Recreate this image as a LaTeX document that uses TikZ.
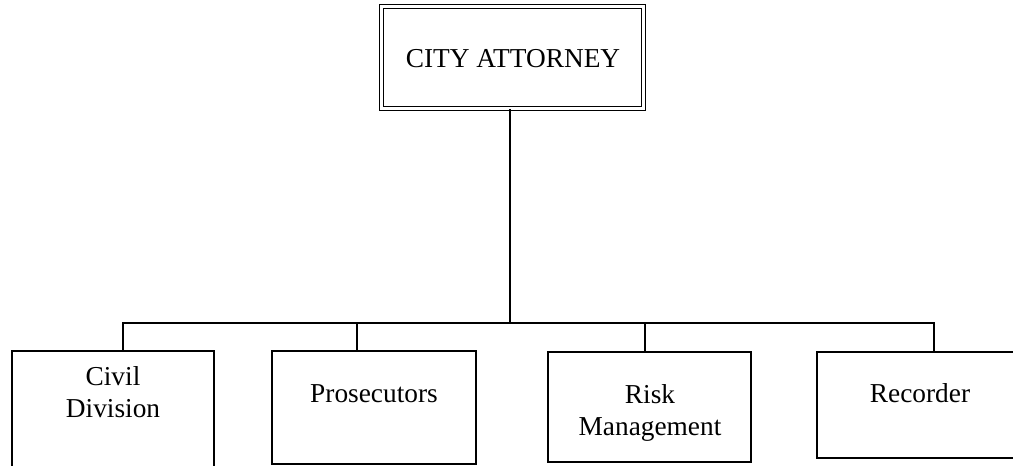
\documentclass[tikz,border=0pt]{standalone}
\usepackage{fontspec}
\setmainfont{Liberation Serif}
\begin{document}
\begin{tikzpicture}[x=0.75pt,y=-0.75pt,
  box/.style={draw=black,line width=2pt,fill=white,inner sep=0pt,minimum width=0pt},
  link/.style={draw=black,line width=2pt},
  lbl/.style={font=\fontsize{20.5}{23.5}\selectfont,align=center,inner sep=0pt,anchor=base},
  topbox/.style={draw=black,double=white,double distance=1.6pt,line width=1.1pt,inner sep=0pt}]
\useasboundingbox (0,0) rectangle (1013,465);
\clip (0,0) rectangle (1013,465);
% boxes
\node[topbox,minimum width=262*0.75pt,minimum height=102*0.75pt] (ca) at (512.5,57.5) {};
\node[box,minimum width=202*0.75pt,minimum height=140*0.75pt] (cd) at (113,421) {};
\node[box,minimum width=204*0.75pt,minimum height=113*0.75pt] (pr) at (374,407.5) {};
\node[box,minimum width=203*0.75pt,minimum height=110*0.75pt] (rm) at (649.5,407) {};
\node[box,minimum width=220*0.75pt,minimum height=106*0.75pt] (rc) at (927,405) {};
% bus
\coordinate (bus) at (510,323);
\coordinate (bl) at (123,323);
\coordinate (br) at (934,323);
\draw[link] (ca.south -| bus) -- (bus);
\draw[link] (cd.north -| bl) -- (bl) -- (br) -- (rc.north -| br);
\draw[link] (pr.north -| 357,0) -- (357,323);
\draw[link] (rm.north -| 645,0) -- (645,323);
% labels
\node[lbl] (tca) at (513,67) {CITY ATTORNEY};
\node[lbl] (tcd) at (113,417) {Civil\\Division};
\node[lbl] (tpr) at (374,402) {Prosecutors};
\node[lbl] (trm) at (650,435) {Risk\\Management};
\node[lbl] (trc) at (920,402) {Recorder};
\end{tikzpicture}
\end{document}
